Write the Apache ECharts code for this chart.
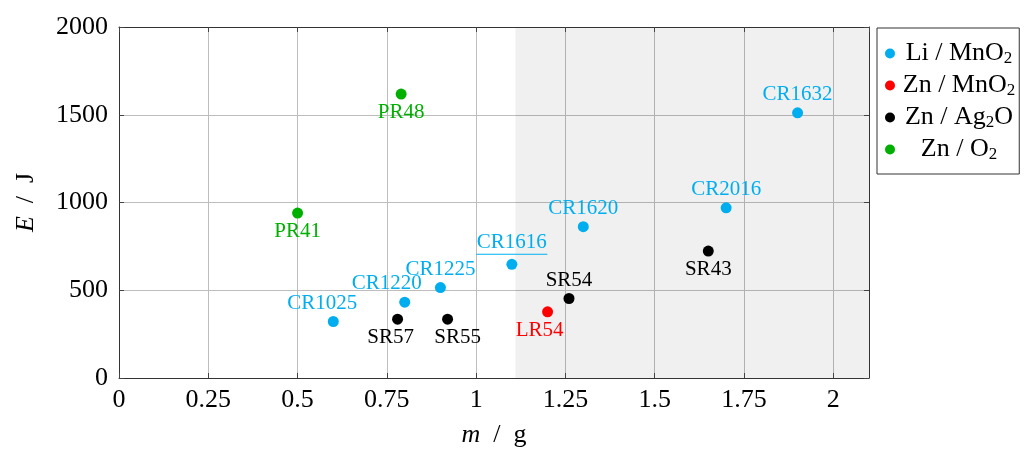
<!DOCTYPE html>
<html>
<head>
<meta charset="utf-8">
<script src="https://cdn.jsdelivr.net/npm/echarts@6/dist/echarts.min.js"></script>
<style>
  html, body { margin: 0; padding: 0; background: #fff; }
  #chart { width: 1027px; height: 453px; }
</style>
</head>
<body>
<div id="chart"></div>
<script>
// Cell mass (g) and stored energy (J) per chemistry
const liNames  = ['CR1025', 'CR1220', 'CR1225', 'CR1616', 'CR1620', 'CR2016', 'CR1632'];
const liMass   = [0.6, 0.8, 0.9, 1.1, 1.3, 1.7, 1.9];
const liEnergy = [322, 432, 515, 648, 862, 970, 1511];

const znMnNames  = ['LR54'];
const znMnMass   = [1.2];
const znMnEnergy = [377];

const znAgNames  = ['SR57', 'SR55', 'SR54', 'SR43'];
const znAgMass   = [0.78, 0.92, 1.26, 1.65];
const znAgEnergy = [335, 335, 453, 723];

const znONames  = ['PR41', 'PR48'];
const znOMass   = [0.5, 0.79];
const znOEnergy = [940, 1618];

const xTicks = { min: 0, max: 2.1, step: 0.25 };
const yTicks = { min: 0, max: 2000, step: 500 };
const shadedFrom = 1.11;

// Label placement per cell (side of the marker and horizontal nudge)
const labelSide = {
  CR1025: ['top', -11], CR1220: ['top', -18], CR1225: ['top', 0], CR1616: ['top', 0],
  CR1620: ['top', 0], CR2016: ['top', 0], CR1632: ['top', 0],
  LR54: ['bottom', -8],
  SR57: ['bottom', -7], SR55: ['bottom', 10], SR54: ['top', 0], SR43: ['bottom', 0],
  PR41: ['bottom', 0], PR48: ['bottom', 0]
};
const underlined = ['CR1616'];

const FONT = '"Liberation Serif", "DejaVu Serif", serif';
const colors = {
  li: '#00aeef', znMn: '#ff0000', znAg: '#000000', znO: '#00b000'
};

function points(names, xs, ys, color) {
  return names.map((n, i) => {
    const side = labelSide[n] || ['top', 0];
    const ul = underlined.indexOf(n) >= 0;
    return {
      name: n,
      value: [xs[i], ys[i]],
      label: {
        show: true,
        position: side[0],
        offset: [side[1], 0],
        distance: ul ? 4 : 2,
        color: color,
        fontFamily: FONT,
        fontSize: 21,
        formatter: ul ? '{a|' + n + '}\n{u| }' : '{a|' + n + '}',
        rich: {
          a: { color: color, fontFamily: FONT, fontSize: 21, lineHeight: 22 },
          u: { width: 71, height: 1, lineHeight: 1, fontSize: 1, backgroundColor: color }
        }
      }
    };
  });
}

function scatter(name, data, color, extra) {
  return Object.assign({
    name: name,
    type: 'scatter',
    symbol: 'circle',
    symbolSize: 11,
    itemStyle: { color: color, opacity: 1 },
    emphasis: { disabled: true },
    data: data,
    z: 5
  }, extra || {});
}

const chart = echarts.init(document.getElementById('chart'), null, { renderer: 'canvas' });

const axisCommonX = {
  type: 'value', min: xTicks.min, max: xTicks.max, interval: xTicks.step
};
const axisCommonY = {
  type: 'value', min: yTicks.min, max: yTicks.max, interval: yTicks.step
};
const frameLine = { show: true, onZero: false, lineStyle: { color: '#333', width: 1 } };
const innerTick = { show: true, inside: true, length: 5, lineStyle: { color: '#444', width: 1 } };

chart.setOption({
  animation: false,
  backgroundColor: '#fff',
  grid: { left: 119, right: 158, top: 27, bottom: 74 },
  xAxis: [
    Object.assign({}, axisCommonX, {
      position: 'bottom',
      axisLine: frameLine,
      axisTick: innerTick,
      splitLine: { show: true, lineStyle: { color: '#bdbdbd', width: 1 } },
      axisLabel: {
        show: true, color: '#000', fontFamily: FONT, fontSize: 26, margin: 9,
        showMaxLabel: false,
        formatter: v => String(v)
      },
      name: '{i|m}{n|  /  g}',
      nameLocation: 'middle',
      nameGap: 44,
      nameTextStyle: {
        rich: {
          i: { fontFamily: FONT, fontSize: 26, fontStyle: 'italic', color: '#000' },
          n: { fontFamily: FONT, fontSize: 26, color: '#000' }
        }
      }
    }),
    Object.assign({}, axisCommonX, {
      position: 'top',
      axisLine: frameLine,
      axisTick: innerTick,
      splitLine: { show: false },
      axisLabel: { show: false }
    })
  ],
  yAxis: [
    Object.assign({}, axisCommonY, {
      position: 'left',
      axisLine: frameLine,
      axisTick: innerTick,
      splitLine: { show: true, lineStyle: { color: '#bdbdbd', width: 1 } },
      axisLabel: {
        show: true, color: '#000', fontFamily: FONT, fontSize: 26, margin: 11,
        formatter: v => String(v)
      },
      name: '{i|E}{n|  /  J}',
      nameLocation: 'middle',
      nameRotate: 90,
      nameGap: 80,
      nameTextStyle: {
        rich: {
          i: { fontFamily: FONT, fontSize: 26, fontStyle: 'italic', color: '#000' },
          n: { fontFamily: FONT, fontSize: 26, color: '#000' }
        }
      }
    }),
    Object.assign({}, axisCommonY, {
      position: 'right',
      axisLine: frameLine,
      axisTick: innerTick,
      splitLine: { show: false },
      axisLabel: { show: false }
    })
  ],
  legend: {
    orient: 'vertical',
    left: 877,
    top: 28,
    padding: [12, 4, 11, 8],
    itemGap: 5,
    itemWidth: 10,
    itemHeight: 10,
    icon: 'circle',
    borderColor: '#333',
    borderWidth: 1,
    borderRadius: 0,
    backgroundColor: '#fff',
    selectedMode: false,
    data: ['Li/MnO2', 'Zn/MnO2', 'Zn/Ag2O', 'Zn/O2'],
    formatter: function (name) {
      const map = {
        'Li/MnO2': '{t|Li / MnO}{s|2}',
        'Zn/MnO2': '{t|Zn / MnO}{s|2}',
        'Zn/Ag2O': '{t|Zn / Ag}{s|2}{t|O}',
        'Zn/O2': '{t|Zn / O}{s|2}'
      };
      return map[name];
    },
    textStyle: {
      width: 118,
      fontFamily: FONT,
      fontSize: 26,
      color: '#000',
      rich: {
        t: { fontFamily: FONT, fontSize: 26, lineHeight: 26, color: '#000', align: 'center' },
        s: { fontFamily: FONT, fontSize: 17, lineHeight: 26, color: '#000', align: 'center', padding: [10, 0, 0, 0] }
      }
    }
  },
  series: [
    scatter('Li/MnO2', points(liNames, liMass, liEnergy, colors.li), colors.li, {
      markArea: {
        silent: true,
        z: 0,
        itemStyle: { color: 'rgba(0,0,0,0.058)' },
        label: { show: false },
        data: [[{ xAxis: shadedFrom }, { xAxis: xTicks.max }]]
      }
    }),
    scatter('Zn/MnO2', points(znMnNames, znMnMass, znMnEnergy, colors.znMn), colors.znMn),
    scatter('Zn/Ag2O', points(znAgNames, znAgMass, znAgEnergy, colors.znAg), colors.znAg),
    scatter('Zn/O2', points(znONames, znOMass, znOEnergy, colors.znO), colors.znO)
  ]
});
</script>
</body>
</html>
